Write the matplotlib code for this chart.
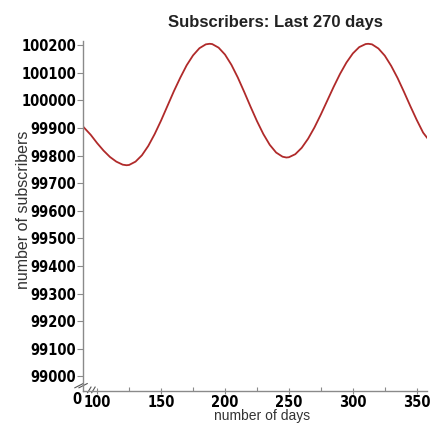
# Subscribers over the last 270 days, line chart with broken y axis
import numpy as np
import matplotlib.pyplot as plt
from matplotlib import font_manager

days = [89, 95, 100, 105, 110, 115, 120, 123, 125, 130, 135, 140, 145, 150,
        155, 160, 165, 170, 175, 180, 185, 188, 190, 195, 200, 205, 210, 215,
        220, 225, 230, 235, 240, 245, 248, 250, 255, 260, 265, 270, 275, 280,
        285, 290, 295, 300, 305, 310, 312, 315, 320, 325, 330, 335, 340, 345,
        350, 355, 358]
subscribers = [99905, 99875, 99845, 99818, 99795, 99778, 99767, 99765, 99766,
               99778, 99801, 99835, 99878, 99927, 99980, 100033, 100082, 100127,
               100163, 100189, 100203, 100205, 100204, 100191, 100166, 100129,
               100083, 100031, 99977, 99925, 99878, 99839, 99811, 99796, 99793,
               99794, 99805, 99828, 99861, 99902, 99949, 99999, 100049, 100096,
               100137, 100170, 100193, 100204, 100205, 100203, 100188, 100162,
               100125, 100081, 100031, 99979, 99929, 99883, 99865]

yticks = list(range(99000, 100201, 100))
xticks = [100, 150, 200, 250, 300, 350]

names = {f.name for f in font_manager.fontManager.ttflist}
narrow = [n for n in ['Liberation Sans Narrow', 'DejaVu Sans Condensed'] if n in names]
tick_font = dict(family=narrow + ['DejaVu Sans'], weight='bold', size=10.5,
                 stretch='condensed')
label_font = dict(family=['Liberation Sans', 'DejaVu Sans'], size=11.5, color='#333333')

fig = plt.figure(figsize=(4.42, 4.23), dpi=100)
fig.patch.set_facecolor('white')
ax = fig.add_axes([0.188, 0.075, 0.778, 0.828])

ax.plot(days, subscribers, color='#b02a2a', lw=1.3)

ax.set_xlim(89, 358)
ax.set_ylim(98946, 100215)
ax.set_yticks(yticks)
ax.set_yticklabels([str(v) for v in yticks], **tick_font)
ax.set_xticks(xticks)
ax.set_xticklabels([str(v) for v in xticks], **tick_font)
ax.set_xticks([125, 175, 225, 275, 325], minor=True)

for s in ['top', 'right']:
    ax.spines[s].set_visible(False)
for s in ['left', 'bottom']:
    ax.spines[s].set_color('#8a8a8a')
    ax.spines[s].set_linewidth(1.0)

ax.tick_params(axis='y', direction='out', length=4, width=0.8, color='#8a8a8a', pad=1)
ax.tick_params(axis='x', which='major', direction='inout', length=5, width=0.8, color='#8a8a8a', pad=0)
ax.tick_params(axis='x', which='minor', direction='in', length=3, width=0.8, color='#8a8a8a')

# axis break marks
for dx in (-0.012, 0.0):
    ax.plot([dx - 0.012, dx + 0.012], [0.010, 0.022], transform=ax.transAxes,
            color='#555555', lw=0.8, clip_on=False)
for dx in (0.018, 0.030):
    ax.plot([dx - 0.005, dx + 0.005], [-0.004, 0.012], transform=ax.transAxes,
            color='#555555', lw=0.8, clip_on=False)

fig.text(77 / 442, 1 - 399 / 423, '0', ha='center', va='center', **tick_font)

fig.text(275 / 442, 1 - 22 / 423, 'Subscribers: Last 270 days', ha='center', va='center',
         family=['Liberation Sans', 'DejaVu Sans'], weight='bold', size=12, color='#222222')
fig.text(24 / 442, 1 - 210 / 423, 'number of subscribers', rotation=90, ha='center',
         va='center', **label_font)
fig.text(262 / 442, 0.0, 'number of days', ha='center', va='bottom',
         family=['Liberation Sans', 'DejaVu Sans'], size=10, color='#333333')

plt.savefig('out.png', dpi=100)
plt.close()
